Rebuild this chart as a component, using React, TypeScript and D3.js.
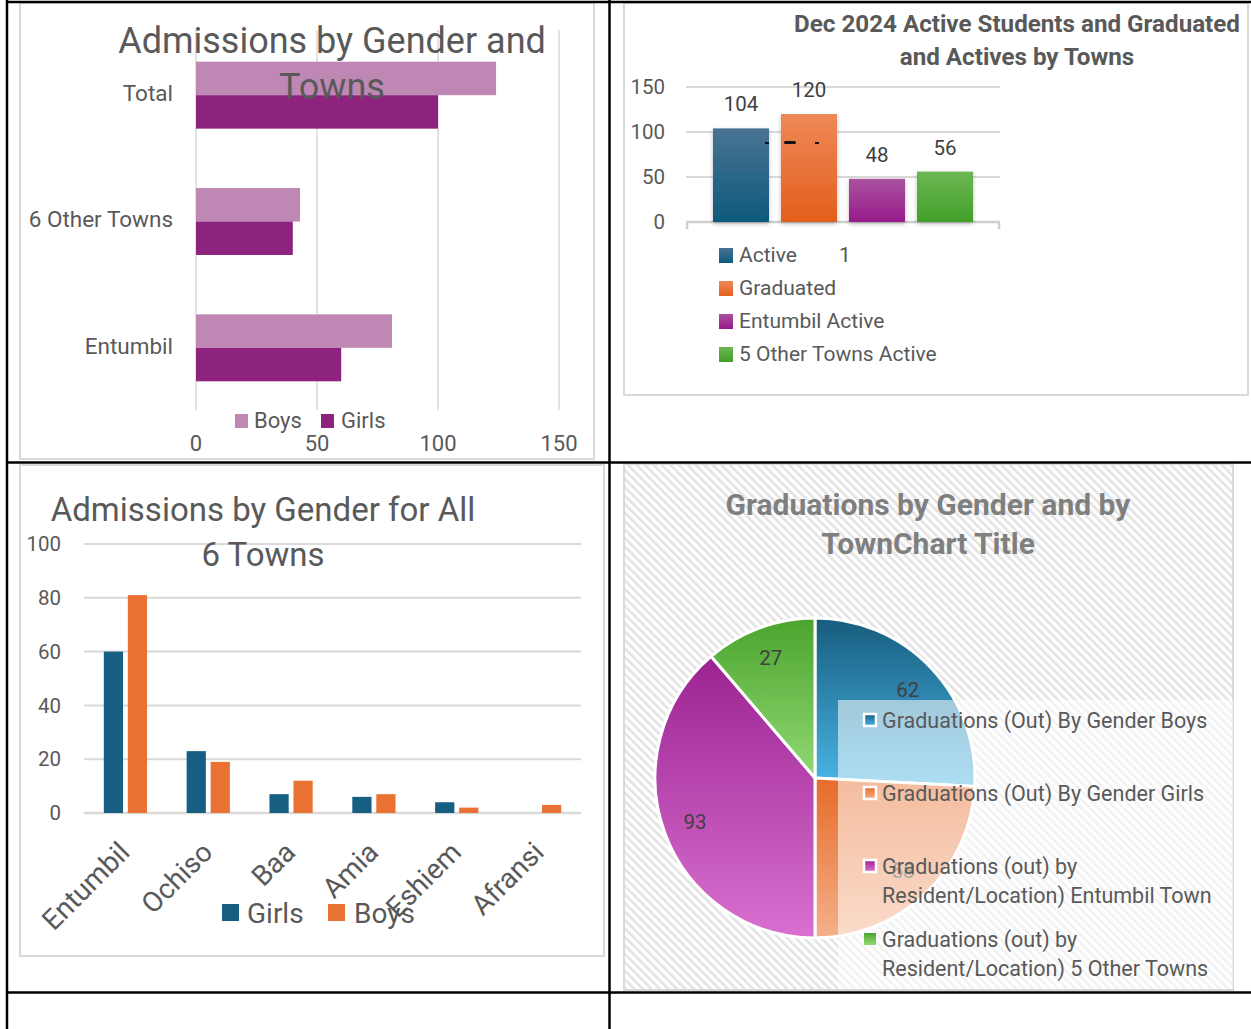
import React from 'react';
import * as d3 from 'd3';

// ---------- Data ----------
const hbarCategories = ['Total', '6 Other Towns', 'Entumbil'];
const hbarBoys = [124, 43, 81];
const hbarGirls = [100, 40, 60];
const hbarTicks = [0, 50, 100, 150];

const colSeries = ['Active', 'Graduated', 'Entumbil  Active', '5 Other Towns Active'];
const colValues = [104, 120, 48, 56];
const colTicks = [0, 50, 100, 150];

const townCategories = ['Entumbil', 'Ochiso', 'Baa', 'Amia', 'Eshiem', 'Afransi'];
const townGirls = [60, 23, 7, 6, 4, 0];
const townBoys = [81, 19, 12, 7, 2, 3];
const townTicks = [0, 20, 40, 60, 80, 100];

const pieLabels = [
  ['Graduations (Out) By Gender Boys'],
  ['Graduations (Out) By Gender Girls'],
  ['Graduations (out) by', 'Resident/Location) Entumbil Town'],
  ['Graduations (out) by', 'Resident/Location) 5  Other Towns'],
];
const pieValues = [62, 58, 93, 27];

// ---------- Styles ----------
const FONT = 'Roboto, "Open Sans", sans-serif';
const TXT = '#595959';
const GRID = '#d9d9d9';
const BOYS1 = '#bf88b4';
const GIRLS1 = '#8d237f';
const TEAL = '#175e83';
const ORANGE = '#e97132';
const colGrad = [
  ['#4a7392', '#0d5a7f'],
  ['#ee8858', '#e35f1c'],
  ['#a9529f', '#981b8b'],
  ['#6cb752', '#42a02a'],
];
const pieGrad = [
  ['#175c7e', '#4ab6e6'],
  ['#e66b29', '#f4b08a'],
  ['#9b2391', '#d970d0'],
  ['#4ba42d', '#91d974'],
];

function HBarChart() {
  const x = d3.scaleLinear().domain([0, 150]).range([196, 559]);
  const y = d3.scaleBand().domain(hbarCategories).range([32, 411]).paddingInner(0.47).paddingOuter(0.235);
  const h = y.bandwidth() / 2;
  return (
    <g>
      <rect x={20} y={3} width={574} height={456} fill="#fff" stroke={GRID} strokeWidth={2} />
      {hbarTicks.map((t) => (
        <line key={t} x1={x(t)} x2={x(t)} y1={30} y2={410} stroke={GRID} strokeWidth={1.5} />
      ))}
      {hbarCategories.map((c, i) => (
        <g key={c}>
          <rect x={x(0)} y={y(c)!} width={x(hbarBoys[i]) - x(0)} height={h} fill={BOYS1} />
          <rect x={x(0)} y={y(c)! + h} width={x(hbarGirls[i]) - x(0)} height={h} fill={GIRLS1} />
          <text x={173} y={y(c)! + h - 2} dy="0.35em" textAnchor="end" fontSize={22.5} fill={TXT}>{c}</text>
        </g>
      ))}
      {hbarTicks.map((t) => (
        <text key={t} x={x(t)} y={451} textAnchor="middle" fontSize={22} fill={TXT}>{t}</text>
      ))}
      <rect x={235} y={414} width={13} height={14} fill={BOYS1} />
      <text x={254} y={428} fontSize={22} fill={TXT}>Boys</text>
      <rect x={321} y={414} width={13} height={14} fill={GIRLS1} />
      <text x={341} y={428} fontSize={22} fill={TXT}>Girls</text>
      <text x={332} y={53} textAnchor="middle" fontSize={36} fill={TXT}>Admissions by Gender and</text>
      <text x={332} y={99} textAnchor="middle" fontSize={36} fill={TXT}>Towns</text>
    </g>
  );
}

function ColChart() {
  const y = d3.scaleLinear().domain([0, 150]).range([222, 87]);
  const x = d3.scaleBand().domain(colSeries).range([686, 1000]).paddingInner(0.176).paddingOuter(0.397);
  return (
    <g>
      <defs>
        {colGrad.map((g, i) => (
          <linearGradient key={i} id={`cg${i}`} x1="0" y1="0" x2="0" y2="1">
            <stop offset="0" stopColor={g[0]} />
            <stop offset="1" stopColor={g[1]} />
          </linearGradient>
        ))}
        <filter id="shadow" x="-20%" y="-20%" width="140%" height="140%">
          <feDropShadow dx="0" dy="2" stdDeviation="2" floodColor="#000" floodOpacity="0.25" />
        </filter>
      </defs>
      <rect x={624} y={3} width={624} height={392} fill="#fff" stroke={GRID} strokeWidth={2} />
      {colTicks.filter((t) => t > 0).map((t) => (
        <line key={t} x1={686} x2={1000} y1={y(t)} y2={y(t)} stroke={GRID} strokeWidth={2} />
      ))}
      <line x1={686} x2={1000} y1={y(0)} y2={y(0)} stroke="#cfcfcf" strokeWidth={2.5} />
      <line x1={687} x2={687} y1={y(0)} y2={y(0) + 7} stroke="#cfcfcf" strokeWidth={2.5} />
      <line x1={999} x2={999} y1={y(0)} y2={y(0) + 7} stroke="#cfcfcf" strokeWidth={2.5} />
      {colTicks.map((t) => (
        <text key={t} x={665} y={y(t)} dy="0.35em" textAnchor="end" fontSize={20.5} fill={TXT}>{t}</text>
      ))}
      {colSeries.map((s, i) => (
        <g key={s}>
          <rect x={x(s)!} y={y(colValues[i])} width={x.bandwidth()} height={y(0) - y(colValues[i])} fill={`url(#cg${i})`} filter="url(#shadow)" />
          <text x={x(s)! + x.bandwidth() / 2} y={y(colValues[i]) - 17} textAnchor="middle" fontSize={20.5} fill="#404040">{colValues[i]}</text>
        </g>
      ))}
      <g fill="#111">
        <rect x={x(colSeries[0])! + x.bandwidth() - 4} y={142} width={4} height={2} />
        <rect x={x(colSeries[1])! + 3} y={141} width={12} height={3} rx={1.5} />
        <rect x={x(colSeries[1])! + 34} y={142} width={4} height={2} />
      </g>
      {colSeries.map((s, i) => (
        <g key={s}>
          <rect x={719} y={248 + i * 33} width={14} height={15} fill={`url(#cg${i})`} />
          <text x={739} y={255 + i * 33} dy="0.35em" fontSize={21} fill={TXT}>{s}</text>
        </g>
      ))}
      <text x={839} y={255} dy="0.35em" fontSize={21} fill={TXT}>1</text>
      <text x={1017} y={32} textAnchor="middle" fontSize={24.2} fontWeight="bold" fill={TXT}>Dec 2024 Active Students and Graduated</text>
      <text x={1017} y={65} textAnchor="middle" fontSize={24.2} fontWeight="bold" fill={TXT}>and Actives by Towns</text>
    </g>
  );
}

function TownChart() {
  const y = d3.scaleLinear().domain([0, 100]).range([813, 544]);
  const x = d3.scaleBand().domain(townCategories).range([84, 581]);
  const x1 = d3.scaleBand().domain(['Girls', 'Boys']).range([0, x.bandwidth()]).paddingInner(0.2).paddingOuter(0.825);
  return (
    <g>
      <rect x={20} y={465} width={584} height={491} fill="#fff" stroke={GRID} strokeWidth={2} />
      {townTicks.map((t) => (
        <g key={t}>
          <line x1={84} x2={581} y1={y(t)} y2={y(t)} stroke={GRID} strokeWidth={t === 0 ? 2.5 : 2} />
          <text x={61} y={y(t)} dy="0.35em" textAnchor="end" fontSize={20.5} fill={TXT}>{t}</text>
        </g>
      ))}
      {townCategories.map((c, i) => {
        const cx = x(c)! + x.bandwidth() / 2;
        return (
          <g key={c}>
            <rect x={x(c)! + x1('Girls')!} y={y(townGirls[i])} width={x1.bandwidth()} height={y(0) - y(townGirls[i])} fill={TEAL} />
            <rect x={x(c)! + x1('Boys')!} y={y(townBoys[i])} width={x1.bandwidth()} height={y(0) - y(townBoys[i])} fill={ORANGE} />
            <text transform={`translate(${cx + 6},${854}) rotate(-45)`} textAnchor="end" fontSize={28} fill={TXT}>{c}</text>
          </g>
        );
      })}
      <rect x={222} y={904} width={17} height={17} fill={TEAL} />
      <text x={247} y={923} fontSize={28} fill={TXT}>Girls</text>
      <rect x={328} y={904} width={17} height={17} fill={ORANGE} />
      <text x={354} y={923} fontSize={28} fill={TXT}>Boys</text>
      <text x={263} y={521} textAnchor="middle" fontSize={33} fill={TXT}>Admissions  by Gender for All</text>
      <text x={263} y={566} textAnchor="middle" fontSize={33} fill={TXT}>6 Towns</text>
    </g>
  );
}

function PieChart() {
  const cx = 815, cy = 778, r = 160;
  const pie = d3.pie<number>().sort(null).value((d) => d);
  const arcs = pie(pieValues);
  const arc = d3.arc<d3.PieArcDatum<number>>().innerRadius(0).outerRadius(r);
  const labelArc = d3.arc<d3.PieArcDatum<number>>().innerRadius(r * 0.8).outerRadius(r * 0.8);
  const legendY = [720, 793, 866, 939];
  return (
    <g>
      <defs>
        <pattern id="hatch" patternUnits="userSpaceOnUse" width={6} height={6} patternTransform="rotate(-45)">
          <rect x={0} y={0} width={6} height={6} fill="#fff" />
          <rect x={0} y={0} width={2.6} height={6} fill="#e3e3e3" />
        </pattern>
        {pieGrad.map((g, i) => (
          <linearGradient key={i} id={`pg${i}`} x1="0" y1="0" x2="0" y2="1">
            <stop offset="0" stopColor={g[0]} />
            <stop offset="1" stopColor={g[1]} />
          </linearGradient>
        ))}
      </defs>
      <rect x={624} y={464} width={609} height={526} fill="url(#hatch)" stroke={GRID} strokeWidth={2} />
      <g transform={`translate(${cx},${cy})`}>
        {arcs.map((a, i) => (
          <path key={i} d={arc(a)!} fill={`url(#pg${i})`} stroke="#fff" strokeWidth={3} />
        ))}
        {arcs.map((a, i) => {
          const [lx, ly] = labelArc.centroid(a);
          return (
            <text key={i} x={lx} y={ly} dy="0.35em" textAnchor="middle" fontSize={20.5} fill="#404040">{pieValues[i]}</text>
          );
        })}
      </g>
      <rect x={838} y={700} width={395} height={289} fill="#fff" opacity={0.55} />
      {pieLabels.map((lines, i) => (
        <g key={i}>
          <rect x={864} y={legendY[i] - 6} width={12} height={12} fill={`url(#pg${i})`} stroke="#fff" strokeWidth={i < 3 ? 2.5 : 0} />
          {lines.map((l, j) => (
            <text key={j} x={882} y={legendY[i] + j * 29} dy="0.35em" fontSize={21.5} fill={TXT}>{l}</text>
          ))}
        </g>
      ))}
      <text x={928} y={515} textAnchor="middle" fontSize={30} fontWeight="bold" fill="#7f7f7f">Graduations by Gender and by</text>
      <text x={928} y={554} textAnchor="middle" fontSize={30} fontWeight="bold" fill="#7f7f7f">TownChart Title</text>
    </g>
  );
}

export default function App() {
  return (
    <svg width={1251} height={1029} style={{ position: 'absolute', left: 0, top: 0, background: '#fff', whiteSpace: 'pre' }} fontFamily={FONT}>
      <rect x={0} y={0} width={1251} height={1029} fill="#fff" />
      <HBarChart />
      <ColChart />
      <TownChart />
      <PieChart />
      <g stroke="#000" strokeWidth={2.5}>
        <line x1={7} x2={1251} y1={2} y2={2} />
        <line x1={7} x2={7} y1={0} y2={1029} />
        <line x1={609.5} x2={609.5} y1={0} y2={1029} />
        <line x1={7} x2={1251} y1={462.5} y2={462.5} />
        <line x1={7} x2={1251} y1={992.5} y2={992.5} />
      </g>
    </svg>
  );
}
